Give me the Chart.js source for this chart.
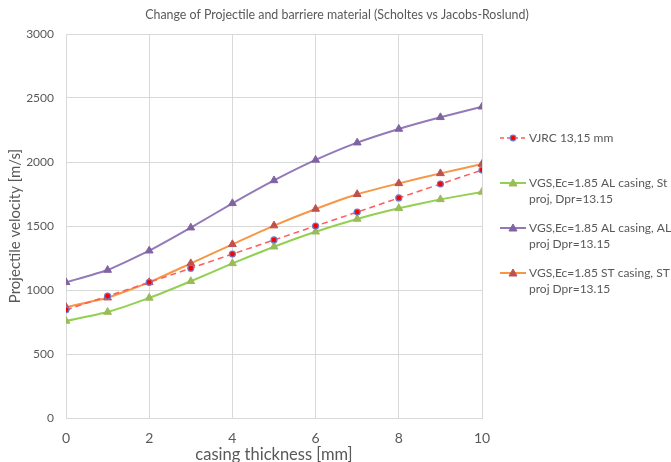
<!DOCTYPE html>
<html lang="en">
<head>
    <meta charset="UTF-8">
    <title>Change of Projectile and barriere material</title>
    <script src="https://cdn.jsdelivr.net/npm/chart.js@4.4.1/dist/chart.umd.min.js"></script>
    <style>
        html, body {
            margin: 0;
            padding: 0;
            background: #ffffff;
        }
        .chart-container {
            position: relative;
            width: 671px;
            height: 462px;
        }
    </style>
</head>
<body>
    <div class="chart-container">
        <canvas id="velocityChart"></canvas>
    </div>

    <script>
        // casing thickness [mm]
        const thickness = [0, 1, 2, 3, 4, 5, 6, 7, 8, 9, 10];

        // projectile velocity [m/s]
        const vjrc = [845, 952, 1060, 1170, 1281, 1391, 1500, 1609, 1719, 1828, 1937];
        const alCasingStProj = [758, 828, 938, 1068, 1208, 1338, 1455, 1555, 1638, 1708, 1766];
        const alCasingAlProj = [1060, 1156, 1307, 1487, 1677, 1856, 2016, 2151, 2258, 2349, 2432];
        const stCasingStProj = [866, 940, 1060, 1208, 1357, 1503, 1633, 1748, 1833, 1911, 1984];

        const seriesNames = [
            ['VJRC 13,15 mm'],
            ['VGS,Ec=1.85 AL casing, St', 'proj, Dpr=13.15'],
            ['VGS,Ec=1.85 AL casing, AL', 'proj Dpr=13.15'],
            ['VGS,Ec=1.85 ST casing, ST', 'proj Dpr=13.15']
        ];

        const xTicks = [0, 2, 4, 6, 8, 10];
        const yTicks = [0, 500, 1000, 1500, 2000, 2500, 3000];

        const FONT = 'Lato, "Open Sans", sans-serif';
        const GREY = '#595959';

        function toPoints(values) {
            return values.map((v, i) => ({ x: thickness[i], y: v }));
        }

        // legend drawn at the right like the spreadsheet one, with wrapped lines
        const sideLegend = {
            id: 'sideLegend',
            afterDraw(chart) {
                const ctx = chart.ctx;
                const rows = [138, 183, 228, 273];
                ctx.save();
                ctx.font = '12px ' + FONT;
                ctx.textBaseline = 'middle';
                chart.data.datasets.forEach((ds, i) => {
                    const y = rows[i];
                    ctx.strokeStyle = ds.borderColor;
                    ctx.lineWidth = ds.borderWidth;
                    ctx.setLineDash(ds.borderDash ? [4, 3] : []);
                    ctx.beginPath();
                    ctx.moveTo(500, y);
                    ctx.lineTo(526, y);
                    ctx.stroke();
                    ctx.setLineDash([]);

                    ctx.fillStyle = ds.pointBackgroundColor;
                    ctx.strokeStyle = ds.pointBorderColor;
                    ctx.lineWidth = ds.pointBorderWidth;
                    ctx.beginPath();
                    if (ds.pointStyle === 'circle') {
                        ctx.arc(513, y, 2.8, 0, Math.PI * 2);
                    } else {
                        ctx.moveTo(513, y - 4);
                        ctx.lineTo(517, y + 3);
                        ctx.lineTo(509, y + 3);
                        ctx.closePath();
                    }
                    ctx.fill();
                    ctx.stroke();

                    ctx.fillStyle = GREY;
                    seriesNames[i].forEach((line, j) => {
                        ctx.fillText(line, 529, y + j * 16);
                    });
                });
                ctx.restore();
            }
        };

        const topTitle = {
            id: 'topTitle',
            afterDraw(chart) {
                const c = chart.ctx;
                c.save();
                c.font = '12.4px ' + FONT;
                c.fillStyle = GREY;
                c.textAlign = 'center';
                c.textBaseline = 'middle';
                c.fillText('Change of Projectile and barriere material (Scholtes vs Jacobs-Roslund)', 337, 15);
                c.restore();
            }
        };

        const ctx = document.getElementById('velocityChart').getContext('2d');
        const chart = new Chart(ctx, {
            type: 'line',
            data: {
                datasets: [
                    {
                        label: seriesNames[0].join(' '),
                        data: toPoints(vjrc),
                        borderColor: '#ff5b5b',
                        borderWidth: 1.5,
                        borderDash: [6, 4],
                        pointStyle: 'circle',
                        pointRadius: 3,
                        pointBackgroundColor: '#ff0000',
                        pointBorderColor: '#6b7cc8',
                        pointBorderWidth: 1.2,
                        tension: 0
                    },
                    {
                        label: seriesNames[1].join(' '),
                        data: toPoints(alCasingStProj),
                        borderColor: '#92d050',
                        borderWidth: 2,
                        pointStyle: 'triangle',
                        pointRadius: 4.5,
                        pointBackgroundColor: '#9bbb59',
                        pointBorderColor: '#9bbb59',
                        pointBorderWidth: 1,
                        tension: 0.15
                    },
                    {
                        label: seriesNames[2].join(' '),
                        data: toPoints(alCasingAlProj),
                        borderColor: '#9479b8',
                        borderWidth: 2,
                        pointStyle: 'triangle',
                        pointRadius: 4.5,
                        pointBackgroundColor: '#8064a2',
                        pointBorderColor: '#8064a2',
                        pointBorderWidth: 1,
                        tension: 0.15
                    },
                    {
                        label: seriesNames[3].join(' '),
                        data: toPoints(stCasingStProj),
                        borderColor: '#f79646',
                        borderWidth: 2,
                        pointStyle: 'triangle',
                        pointRadius: 4.5,
                        pointBackgroundColor: '#c0504d',
                        pointBorderColor: '#c0504d',
                        pointBorderWidth: 1,
                        tension: 0.15
                    }
                ]
            },
            options: {
                responsive: true,
                maintainAspectRatio: false,
                animation: false,
                layout: {
                    padding: { top: 34, right: 189, left: 0, bottom: 0 }
                },
                plugins: {
                    legend: { display: false },
                    tooltip: { enabled: false },
                    title: { display: false }
                },
                scales: {
                    x: {
                        type: 'linear',
                        min: 0,
                        max: 10,
                        afterBuildTicks: axis => {
                            axis.ticks = xTicks.map(v => ({ value: v }));
                        },
                        afterFit: axis => { axis.height = 44; },
                        grid: { color: '#d9d9d9', drawTicks: false },
                        border: { color: '#d9d9d9' },
                        ticks: {
                            color: GREY,
                            padding: 12,
                            font: { family: FONT, size: 14 },
                            callback: v => String(v)
                        },
                        title: {
                            display: true,
                            text: 'casing thickness [mm]',
                            color: GREY,
                            padding: { top: 0, bottom: -3 },
                            font: { family: FONT, size: 16.5 }
                        }
                    },
                    y: {
                        min: 0,
                        max: 3000,
                        afterBuildTicks: axis => {
                            axis.ticks = yTicks.map(v => ({ value: v }));
                        },
                        afterFit: axis => { axis.width = 66; },
                        grid: { color: '#d9d9d9', drawTicks: false },
                        border: { display: false },
                        ticks: {
                            color: GREY,
                            padding: 12,
                            font: { family: FONT, size: 12 },
                            callback: v => String(v)
                        },
                        title: {
                            display: true,
                            text: 'Projectile velocity [m/s]',
                            color: GREY,
                            padding: { top: 6, bottom: 0 },
                            font: { family: FONT, size: 15 }
                        }
                    }
                }
            },
            plugins: [sideLegend, topTitle]
        });
    </script>
</body>
</html>
